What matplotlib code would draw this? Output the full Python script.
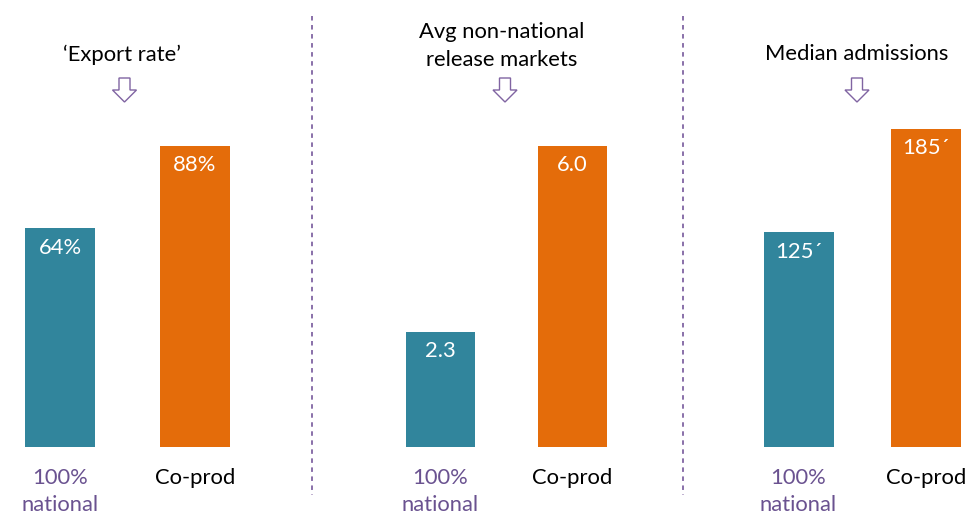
import matplotlib.pyplot as plt
from matplotlib.patches import Polygon
from matplotlib.lines import Line2D

# data
categories = ['100%\nnational', 'Co-prod']
titles = ['\u2018Export rate\u2019', 'Avg non-national\nrelease markets', 'Median admissions']
values = [[64, 88], [2.3, 6.0], [125, 185]]
value_labels = [['64%', '88%'], ['2.3', '6.0'], ['125\u00b4', '185\u00b4']]

teal = '#31859C'
orange = '#E46C0A'
purple = '#8064A2'
label_purple = '#6A5290'
colors = [teal, orange]

plt.rcParams['font.family'] = ['Lato', 'DejaVu Sans']

W, H = 973, 515
fig = plt.figure(figsize=(W / 100, H / 100), dpi=100)

def fx(px):
    return px / W

def fy(py):
    return 1 - py / H

# layout in pixels: axes left/right, bar centres, bar width, y-top limit
panels = [
    dict(left=0, right=312, centres=(60, 195), bw=70, ytop=126),
    dict(left=312, right=683, centres=(440.5, 572.5), bw=69, ytop=8.59),
    dict(left=683, right=973, centres=(798.5, 926), bw=70, ytop=250.7),
]
title_x = [122, 502, 857]
title_y = [55, 46, 54]
arrow_x = [124.5, 505, 857]
base_y, top_y = 447, 16
fs = 15.8

for k, p in enumerate(panels):
    ax = fig.add_axes([fx(p['left']), fy(base_y), fx(p['right'] - p['left']),
                       (base_y - top_y) / H])
    c0, c1 = p['centres']
    u = c1 - c0
    ax.set_xlim(-(c0 - p['left']) / u, (p['right'] - c0) / u)
    ax.set_ylim(0, p['ytop'])
    ax.bar([0, 1], values[k], width=p['bw'] / u, color=colors)
    for i in range(2):
        ax.annotate(value_labels[k][i], xy=(i, values[k][i]), xytext=(0, -14),
                    textcoords='offset points', ha='center', va='center',
                    color='white', fontsize=fs)
        ax.annotate(categories[i], xy=(i, 0), xytext=(0, -15),
                    textcoords='offset points', ha='center', va='top',
                    color=label_purple if i == 0 else 'black', fontsize=fs,
                    linespacing=1.45, annotation_clip=False)
    ax.axis('off')

    # title and hollow arrow
    fig.text(fx(title_x[k]), fy(title_y[k]), titles[k], ha='center', va='center',
             fontsize=fs, linespacing=1.5)
    ax_c = arrow_x[k]
    pts = [(ax_c - 5.5, 78), (ax_c + 5.5, 78), (ax_c + 5.5, 90), (ax_c + 12, 90),
           (ax_c, 102), (ax_c - 12, 90), (ax_c - 5.5, 90)]
    fig.patches.append(Polygon([(fx(x), fy(y)) for x, y in pts], closed=True,
                               fill=False, edgecolor=purple, linewidth=1.0,
                               transform=fig.transFigure))

# dashed separators
for sx in [312, 683]:
    fig.lines.append(Line2D([fx(sx), fx(sx)], [fy(16), fy(495)], color=purple,
                            linestyle=(0, (2.5, 2.5)), linewidth=1.3,
                            transform=fig.transFigure))

fig.savefig('out.png', dpi=100)
